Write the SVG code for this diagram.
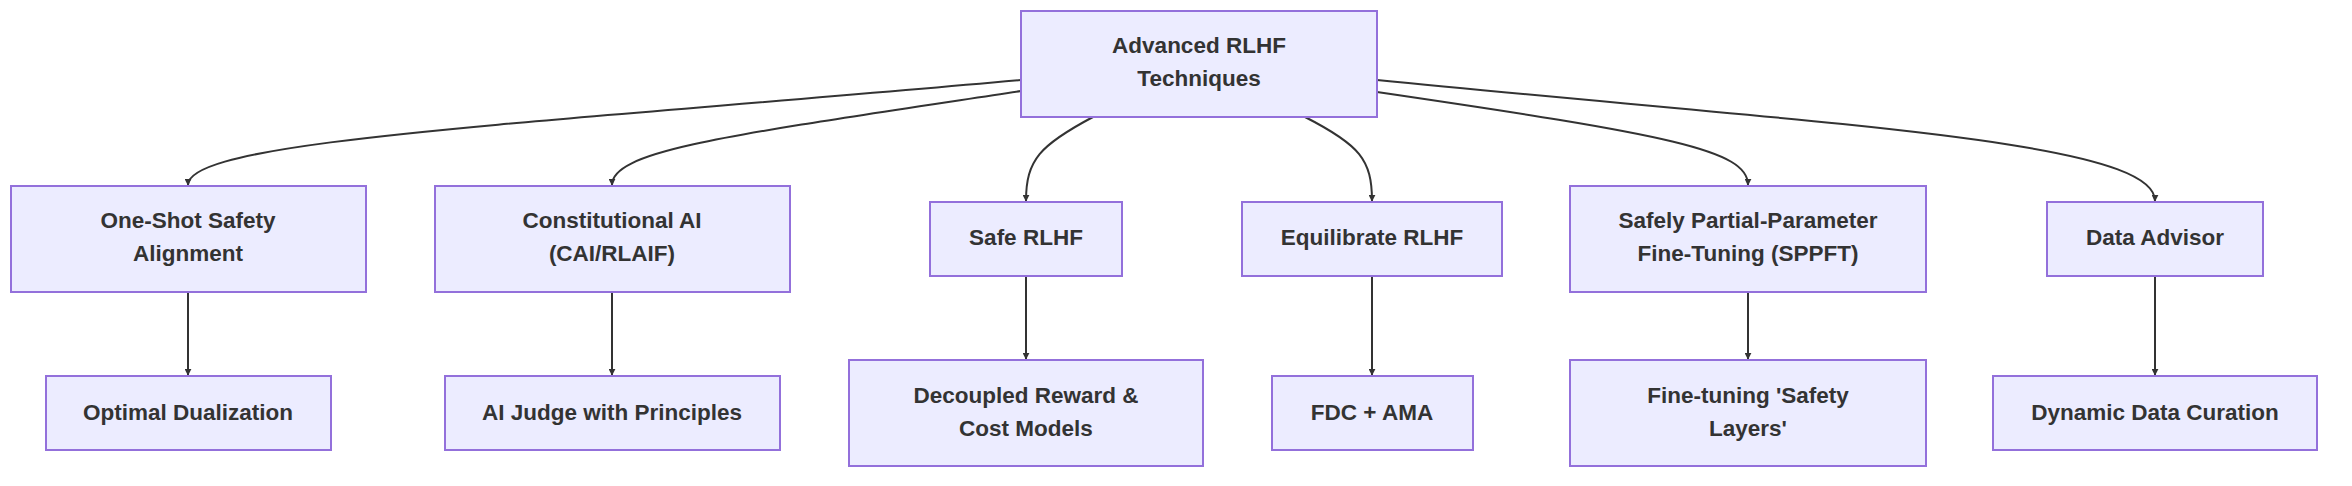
<svg xmlns="http://www.w3.org/2000/svg" width="2352" height="486" viewBox="0 0 2352 486">
<style>
.n rect{fill:#ECECFF;stroke:#9370DB;stroke-width:2}
.n text{font-family:"Liberation Sans",Arial,sans-serif;font-size:22.5px;font-weight:bold;fill:#333;text-anchor:middle}
.e path{fill:none;stroke:#333;stroke-width:2;marker-end:url(#a)}
</style>
<defs><marker id="a" viewBox="0 0 10 10" refX="9" refY="5" markerWidth="7" markerHeight="7" orient="auto" markerUnits="userSpaceOnUse"><path d="M0,0L10,5L0,10z" fill="#333"/></marker></defs>
<rect width="2352" height="486" fill="#fff"/>
<g class="e">
<path d="M1021,80 C520,125 188,140 188,185"/>
<path d="M1021,91 C730,135 612,150 612,185"/>
<path d="M1093,117 C1040,145 1026,160 1026,201"/>
<path d="M1305,117 C1360,145 1372,160 1372,201"/>
<path d="M1377,92 C1670,135 1748,150 1748,185"/>
<path d="M1377,80 C1830,125 2155,140 2155,201"/>
<path d="M188,292 V375"/>
<path d="M612,292 V375"/>
<path d="M1026,276 V359"/>
<path d="M1372,276 V375"/>
<path d="M1748,292 V359"/>
<path d="M2155,276 V375"/>
</g>
<g id="root" class="n"><rect x="1021" y="11" width="356" height="106"/><text x="1199" y="53">Advanced RLHF</text><text x="1199" y="86">Techniques</text></g>
<g id="n1" class="n"><rect x="11" y="186" width="355" height="106"/><text x="188" y="228">One-Shot Safety</text><text x="188" y="261">Alignment</text></g>
<g id="n2" class="n"><rect x="435" y="186" width="355" height="106"/><text x="612" y="228">Constitutional AI</text><text x="612" y="261">(CAI/RLAIF)</text></g>
<g id="n3" class="n"><rect x="930" y="202" width="192" height="74"/><text x="1026" y="245">Safe RLHF</text></g>
<g id="n4" class="n"><rect x="1242" y="202" width="260" height="74"/><text x="1372" y="245">Equilibrate RLHF</text></g>
<g id="n5" class="n"><rect x="1570" y="186" width="356" height="106"/><text x="1748" y="228">Safely Partial-Parameter</text><text x="1748" y="261">Fine-Tuning (SPPFT)</text></g>
<g id="n6" class="n"><rect x="2047" y="202" width="216" height="74"/><text x="2155" y="245">Data Advisor</text></g>
<g id="m1" class="n"><rect x="46" y="376" width="285" height="74"/><text x="188" y="420">Optimal Dualization</text></g>
<g id="m2" class="n"><rect x="445" y="376" width="335" height="74"/><text x="612" y="420">AI Judge with Principles</text></g>
<g id="m3" class="n"><rect x="849" y="360" width="354" height="106"/><text x="1026" y="403">Decoupled Reward &amp;</text><text x="1026" y="436">Cost Models</text></g>
<g id="m4" class="n"><rect x="1272" y="376" width="201" height="74"/><text x="1372" y="420">FDC + AMA</text></g>
<g id="m5" class="n"><rect x="1570" y="360" width="356" height="106"/><text x="1748" y="403">Fine-tuning 'Safety</text><text x="1748" y="436">Layers'</text></g>
<g id="m6" class="n"><rect x="1993" y="376" width="324" height="74"/><text x="2155" y="420">Dynamic Data Curation</text></g>
</svg>
